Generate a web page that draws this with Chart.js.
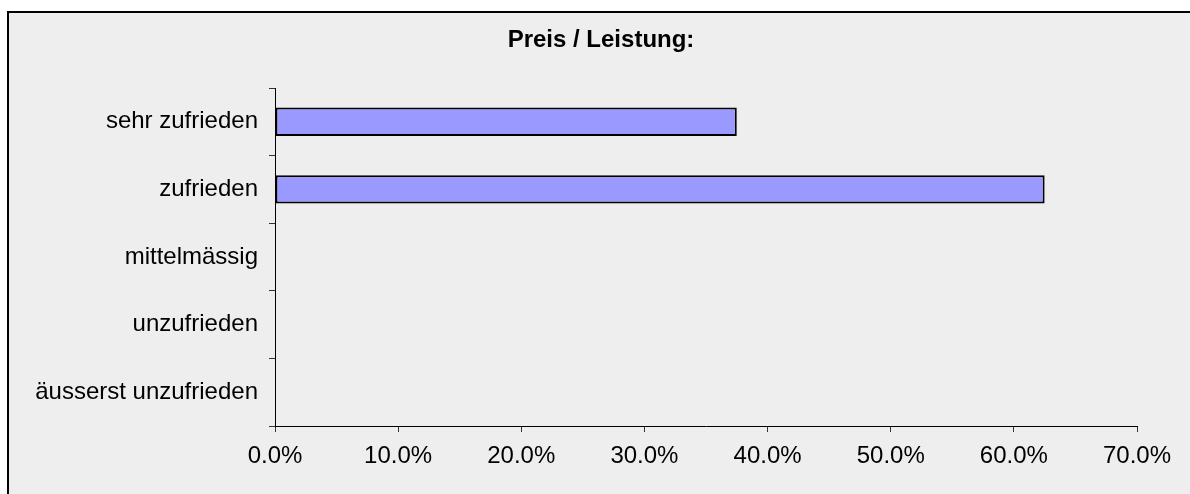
<!DOCTYPE html>
<html>
<head>
<meta charset="utf-8">
<script src="https://cdn.jsdelivr.net/npm/chart.js@4/dist/chart.umd.min.js"></script>
<style>
  body { margin: 0; background: #fff; overflow: hidden; }
  #wrap {
    position: absolute; left: 7px; top: 11px;
    width: 1200px; height: 500px;
    border-left: 2px solid #000; border-top: 2px solid #000;
    background: #eeeeee;
  }
  #chart { display: block; }
</style>
</head>
<body>
<div id="wrap"><canvas id="chart" width="1184" height="481"></canvas></div>
<script>
var categories = ['sehr zufrieden', 'zufrieden', 'mittelmässig', 'unzufrieden', 'äusserst unzufrieden'];
var values = [37.5, 62.5, 0, 0, 0];
var tickMin = 0, tickMax = 70, tickStep = 10;

Chart.defaults.font.family = '"Liberation Sans", Arial, sans-serif';
Chart.defaults.color = '#000';

var ctx = document.getElementById('chart');
var barChart = new Chart(ctx, {
  type: 'bar',
  data: {
    labels: categories,
    datasets: [{
      label: 'Preis / Leistung',
      data: values,
      backgroundColor: '#9999ff',
      borderColor: '#000',
      borderWidth: 2,
      borderSkipped: false,
      barPercentage: 0.42,
      categoryPercentage: 1
    }]
  },
  options: {
    indexAxis: 'y',
    responsive: false,
    animation: false,
    layout: { padding: 0 },
    plugins: {
      legend: { display: false },
      tooltip: { enabled: false },
      title: {
        display: true,
        text: 'Preis / Leistung:',
        font: { size: 24, weight: 'bold' },
        color: '#000',
        padding: { top: 12.6, bottom: 33.6 }
      }
    },
    scales: {
      x: {
        min: tickMin,
        max: tickMax,
        afterFit: function (scale) {
          scale.height = 68;
          scale.paddingRight = 56;
        },
        ticks: {
          stepSize: tickStep,
          font: { size: 24 },
          padding: 10,
          maxRotation: 0,
          callback: function (v) { return v.toFixed(1) + '%'; }
        },
        grid: { drawOnChartArea: false, drawTicks: true, tickLength: 6, color: '#333' },
        border: { display: true, color: '#000', width: 1 }
      },
      y: {
        afterFit: function (scale) { scale.width = 266; },
        ticks: { font: { size: 24 }, padding: 11 },
        grid: { offset: true, drawOnChartArea: false, drawTicks: true, tickLength: 6, color: '#333' },
        border: { display: true, color: '#000', width: 1 }
      }
    }
  }
});
</script>
</body>
</html>
